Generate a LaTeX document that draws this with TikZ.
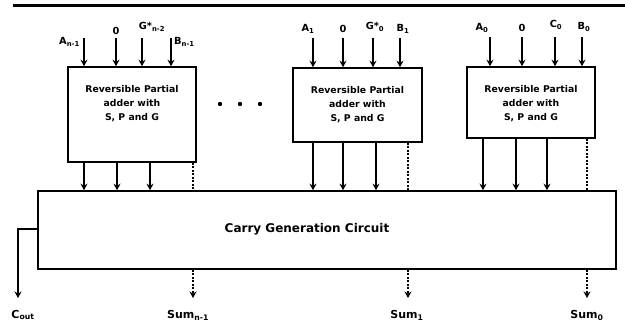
\documentclass[tikz,border=0pt]{standalone}
\usepackage{fontspec}
\setmainfont{DejaVu Sans}
\usetikzlibrary{arrows.meta}
\begin{document}
\begin{tikzpicture}[x=1pt,y=-1pt,
  blk/.style={draw,line width=1.6pt,inner sep=0pt,fill=white},
  btxt/.style={font=\bfseries\fontsize{9.3}{14}\selectfont,align=center,inner sep=0pt},
  lbl/.style={font=\bfseries\fontsize{9.8}{10}\selectfont,inner sep=0pt},
  slbl/.style={font=\bfseries\fontsize{11}{12}\selectfont,inner sep=0pt},
  inarr/.style={line width=1.9pt,-{Stealth[length=6.5pt,width=7pt]}},
  dsh/.style={line width=1.5pt,dash pattern=on 2pt off 1.5pt},
  dsharr/.style={line width=1.5pt,dash pattern=on 2pt off 1.5pt,-{Stealth[length=6.5pt,width=7pt]}}
]
\useasboundingbox (0,0) rectangle (625,322);
\draw[line width=3pt] (13,5) -- (625,5);

% blocks
\node[blk,minimum width=128pt,minimum height=95pt] (b1) at (132,114.5) {};
\node[blk,minimum width=129pt,minimum height=74pt] (b2) at (357.5,105) {};
\node[blk,minimum width=128pt,minimum height=71pt] (b3) at (531,102.5) {};
\node[blk,minimum width=578pt,minimum height=78pt] (big) at (327,230) {};

\node[btxt] (t1) at (132,104) {Reversible Partial\\adder with\\S, P and G};
\node[btxt] (t2) at (357.5,105) {Reversible Partial\\adder with\\S, P and G};
\node[btxt] (t3) at (531,104) {Reversible Partial\\adder with\\S, P and G};
\node[font=\bfseries\fontsize{12}{13}\selectfont,inner sep=0pt] (tc) at (307,229) {Carry Generation Circuit};

% dots
\foreach \x/\n in {220/d1,240/d2,260/d3} \fill (\x,104) circle (2.2pt) coordinate (\n);

% inputs block 1
\foreach \x/\n in {84/i11,116/i12,142/i13,171/i14} {
  \coordinate (\n) at (\x,38);
  \draw[inarr] (\n) -- (\n |- b1.north);
}
\node[lbl,anchor=east] (la11) at (80,42) {A\textsubscript{n-1}};
\node[lbl] (la12) at (116,31) {0};
\node[lbl] (la13) at (152,27) {G*\textsubscript{n-2}};
\node[lbl,anchor=west] (la14) at (174,42) {B\textsubscript{n-1}};

% inputs block 2
\foreach \x/\n in {313/i21,343/i22,373/i23,400/i24} {
  \coordinate (\n) at (\x,38);
  \draw[inarr] (\n) -- (\n |- b2.north);
}
\node[lbl] (la21) at (308,29) {A\textsubscript{1}};
\node[lbl] (la22) at (343,29) {0};
\node[lbl] (la23) at (375,27) {G*\textsubscript{0}};
\node[lbl] (la24) at (403,29) {B\textsubscript{1}};

% inputs block 3
\foreach \x/\n in {490/i31,522/i32,555/i33,582/i34} {
  \coordinate (\n) at (\x,37);
  \draw[inarr] (\n) -- (\n |- b3.north);
}
\node[lbl] (la31) at (482,28) {A\textsubscript{0}};
\node[lbl] (la32) at (522,28) {0};
\node[lbl] (la33) at (556,25) {C\textsubscript{0}};
\node[lbl] (la34) at (584,27) {B\textsubscript{0}};

% outputs to carry circuit
\foreach \x/\n in {84/o11,117/o12,150/o13} {
  \coordinate (\n) at (\x,162);
  \draw[inarr] (\n |- b1.south) -- (\n |- big.north);
}
\coordinate (o14) at (193,162);
\draw[dsh] (o14 |- b1.south) -- (o14 |- big.north);
\foreach \x/\n in {313/o21,343/o22,376/o23} {
  \coordinate (\n) at (\x,142);
  \draw[inarr] (\n |- b2.south) -- (\n |- big.north);
}
\coordinate (o24) at (408,142);
\draw[dsh] (o24 |- b2.south) -- (o24 |- big.north);
\foreach \x/\n in {483/o31,516/o32,547/o33} {
  \coordinate (\n) at (\x,138);
  \draw[inarr] (\n |- b3.south) -- (\n |- big.north);
}
\coordinate (o34) at (587,138);
\draw[dsh] (o34 |- b3.south) -- (o34 |- big.north);

% carry out
\coordinate (cout) at (18,298);
\draw[inarr] (big.west |- 0,229) -| (cout);
\node[slbl] (lcout) at (23,315) {C\textsubscript{out}};

% sums
\coordinate (s1) at (193,298);
\coordinate (s2) at (408,298);
\coordinate (s3) at (587,298);
\draw[dsharr] (s1 |- big.south) -- (s1);
\draw[dsharr] (s2 |- big.south) -- (s2);
\draw[dsharr] (s3 |- big.south) -- (s3);
\node[slbl] (ls1) at (188,315) {Sum\textsubscript{n-1}};
\node[slbl] (ls2) at (407,315) {Sum\textsubscript{1}};
\node[slbl] (ls3) at (587,315) {Sum\textsubscript{0}};
\end{tikzpicture}
\end{document}
